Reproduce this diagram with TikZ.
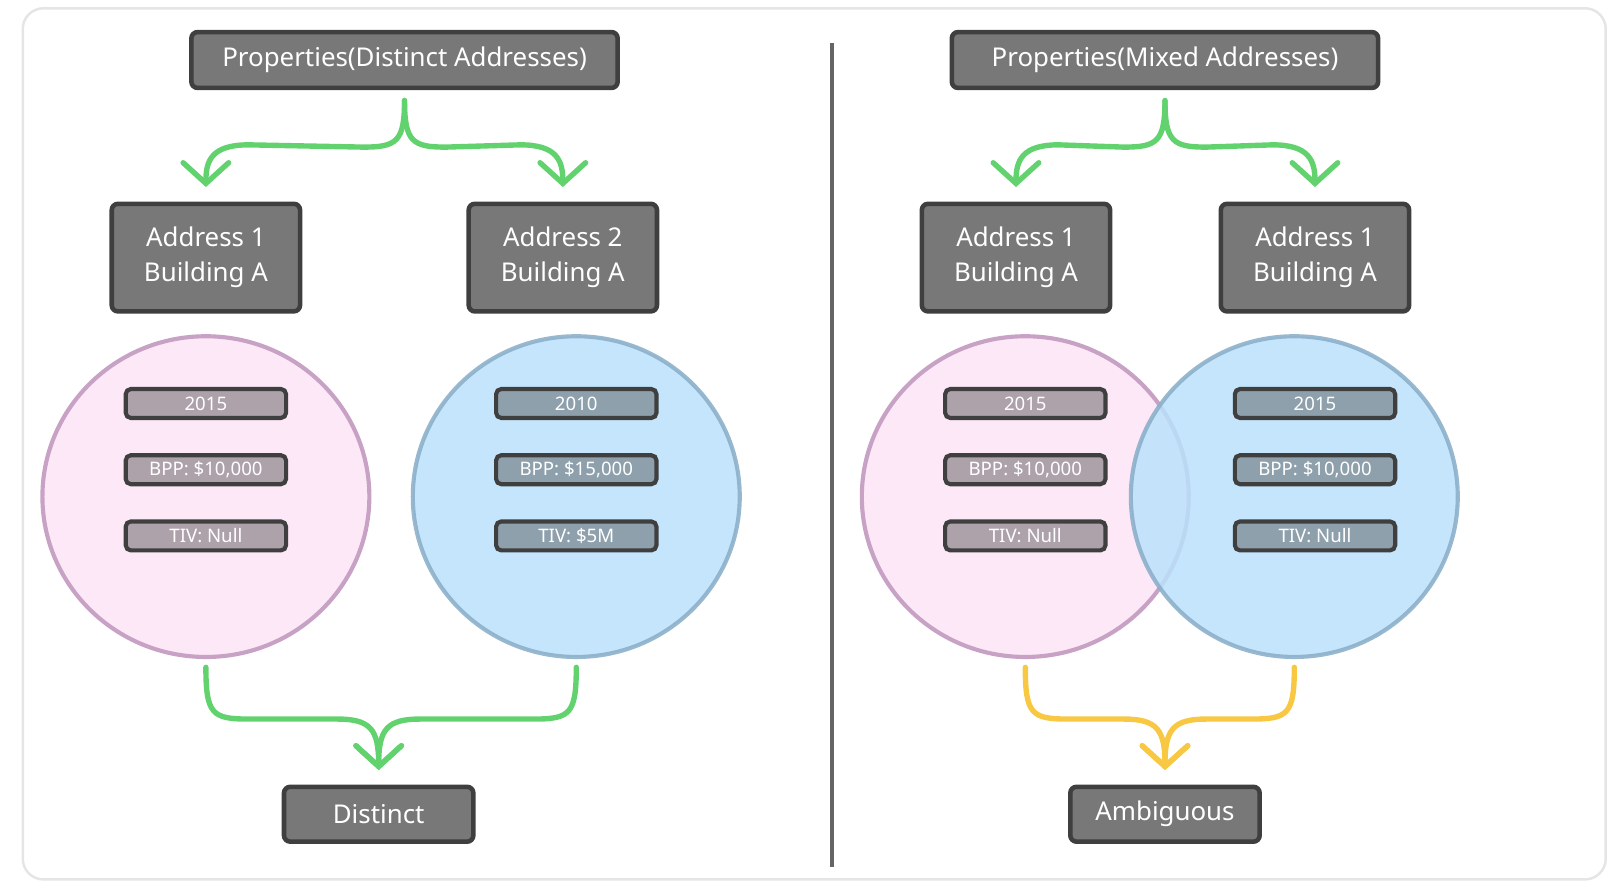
\documentclass[tikz,border=0pt]{standalone}
\usepackage{fontspec}
\setmainfont{Noto Sans}
\usetikzlibrary{arrows.meta,calc}
\definecolor{boxfill}{HTML}{787878}
\definecolor{boxline}{HTML}{3F3F3F}
\definecolor{grn}{HTML}{62D26F}
\definecolor{ylw}{HTML}{F8C843}
\definecolor{pinkf}{HTML}{FDE8F8}
\definecolor{pinkd}{HTML}{C8A2C4}
\definecolor{bluef}{HTML}{BBE1FB}
\definecolor{blued}{HTML}{8CB0CA}
\begin{document}
\begin{tikzpicture}[x=0.5pt,y=-0.5pt,
  box/.style={draw=boxline,fill=boxfill,line width=2.2pt,rounded corners=3pt,text=white,font=\fontsize{12.5}{17}\selectfont,align=center,inner sep=0pt},
  pill/.style={draw=boxline,fill=black!70,fill opacity=0.45,text opacity=1,draw opacity=1,line width=2pt,rounded corners=2.5pt,text=white,font=\fontsize{9}{11}\selectfont,minimum width=77.5pt,minimum height=14pt,inner sep=0pt},
  con/.style={line width=2.6pt,line cap=round,-{Straight Barb[length=10pt,width=22pt,line cap=round]}},
  pinkc/.style={fill=pinkf,draw=pinkd,line width=2pt},
  bluec/.style={fill=bluef,fill opacity=0.85,draw=blued,draw opacity=0.9,line width=2pt}]
\useasboundingbox (0,0) rectangle (1560,860);
\draw[black!10,line width=1.2pt,rounded corners=10pt] (22,8) rectangle (1552,850);
\draw[boxline!80,line width=2pt] (804,42) -- (804,838);

% left half
\node[box,minimum width=206pt,minimum height=27pt] (t1) at (391,58) {Properties(Distinct Addresses)};
\node[box,minimum width=91pt,minimum height=52pt] (a1) at (199,249) {Address 1\\Building A};
\node[box,minimum width=91pt,minimum height=52pt] (a2) at (544,249) {Address 2\\Building A};
\draw[pinkc] (199,480) ellipse[x radius=158,y radius=155];
\draw[bluec] (557,480) ellipse[x radius=158,y radius=155];
\coordinate (c1) at (199,645);
\coordinate (c2) at (557,645);
\node[pill] (p11) at (199,390) {2015};
\node[pill] (p12) at (199,454) {BPP: \$10,000};
\node[pill] (p13) at (199,518) {TIV: Null};
\node[pill] (p21) at (557,390) {2010};
\node[pill] (p22) at (557,454) {BPP: \$15,000};
\node[pill] (p23) at (557,518) {TIV: \$5M};
\node[box,minimum width=91.5pt,minimum height=26.5pt] (d) at (366,787) {Distinct};
\coordinate (s1) at ($(t1.south)+(0,10)$);
\draw[con,grn] (s1) .. controls ($(s1)+(0,40)$) and ($(s1)+(-8,45)$) .. ($(s1)+(-40,45)$) -- (240,140) .. controls (205,140) and (199,155) .. ($(a1.north)+(0,-14)$);
\draw[con,grn] (s1) .. controls ($(s1)+(0,40)$) and ($(s1)+(8,45)$) .. ($(s1)+(40,45)$) -- (503,140) .. controls (538,140) and (544,155) .. ($(a2.north)+(0,-14)$);
\draw[con,grn] (c1) .. controls (199,690) and (205,695) .. (240,695) -- (326,695) .. controls (358,695) and (366,705) .. ($(d.north)+(0,-14)$);
\draw[con,grn] (c2) .. controls (557,690) and (551,695) .. (516,695) -- (406,695) .. controls (374,695) and (366,705) .. ($(d.north)+(0,-14)$);

% right half
\node[box,minimum width=206pt,minimum height=27pt] (t2) at (1126,58) {Properties(Mixed Addresses)};
\node[box,minimum width=91pt,minimum height=52pt] (b1) at (982,249) {Address 1\\Building A};
\node[box,minimum width=91pt,minimum height=52pt] (b2) at (1271,249) {Address 1\\Building A};
\draw[pinkc] (991,480) ellipse[x radius=158,y radius=155];
\draw[bluec] (1251,480) ellipse[x radius=158,y radius=155];
\coordinate (e1) at (991,645);
\coordinate (e2) at (1251,645);
\node[pill] (q11) at (991,390) {2015};
\node[pill] (q12) at (991,454) {BPP: \$10,000};
\node[pill] (q13) at (991,518) {TIV: Null};
\node[pill] (q21) at (1271,390) {2015};
\node[pill] (q22) at (1271,454) {BPP: \$10,000};
\node[pill] (q23) at (1271,518) {TIV: Null};
\node[box,minimum width=91.5pt,minimum height=26.5pt] (m) at (1126,787) {Ambiguous};
\coordinate (s2) at ($(t2.south)+(0,10)$);
\draw[con,grn] (s2) .. controls ($(s2)+(0,40)$) and ($(s2)+(-8,45)$) .. ($(s2)+(-40,45)$) -- (1023,140) .. controls (988,140) and (982,155) .. ($(b1.north)+(0,-14)$);
\draw[con,grn] (s2) .. controls ($(s2)+(0,40)$) and ($(s2)+(8,45)$) .. ($(s2)+(40,45)$) -- (1230,140) .. controls (1265,140) and (1271,155) .. ($(b2.north)+(0,-14)$);
\draw[con,ylw] (e1) .. controls (991,690) and (997,695) .. (1032,695) -- (1086,695) .. controls (1118,695) and (1126,705) .. ($(m.north)+(0,-14)$);
\draw[con,ylw] (e2) .. controls (1251,690) and (1245,695) .. (1210,695) -- (1166,695) .. controls (1134,695) and (1126,705) .. ($(m.north)+(0,-14)$);
\end{tikzpicture}
\end{document}
